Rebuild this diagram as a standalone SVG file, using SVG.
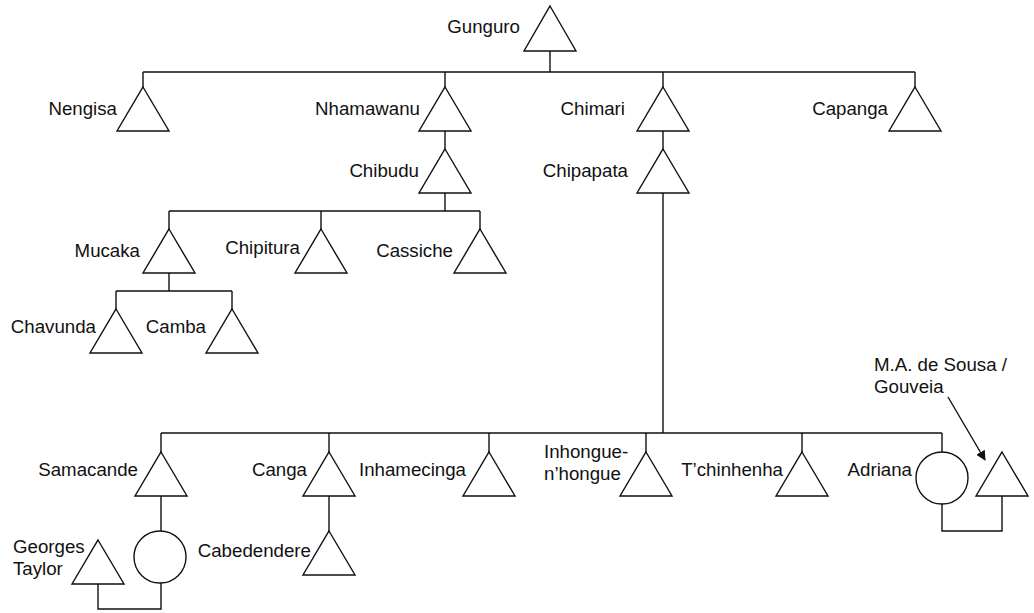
<svg xmlns="http://www.w3.org/2000/svg" width="1034" height="613" viewBox="0 0 1034 613">
<style>
.m{fill:#fff;stroke:#111;stroke-width:1.4}
.c{fill:none;stroke:#111;stroke-width:1.4}
text{font-family:"Liberation Sans",Arial,sans-serif;font-size:18.7px;fill:#111}
.e{text-anchor:end}
</style>
<defs>
<marker id="ah" viewBox="0 0 10 10" refX="9" refY="5" markerWidth="10" markerHeight="10" markerUnits="userSpaceOnUse" orient="auto">
<path d="M0,0 L10,5 L0,10 z" fill="#111"/>
</marker>
</defs>
<rect width="1034" height="613" fill="#fff"/>
<g id="connectors">
<path class="c" d="M550,51 V72 M143,72 H915 M143,72 V87 M445,72 V87 M663,72 V87 M915,72 V87"/>
<path class="c" d="M445,131 V149 M663,131 V149"/>
<path class="c" d="M445,193 V211 M169,211 H480 M169,211 V229 M321,211 V229 M480,211 V229"/>
<path class="c" d="M169,273 V291 M116,291 H232 M116,291 V309 M232,291 V309"/>
<path class="c" d="M663,193 V433 M161,433 H942 M161,433 V452 M329,433 V452 M489,433 V452 M646,433 V452 M802,433 V452 M942,433 V452"/>
<path class="c" d="M161,496 V531 M329,496 V531"/>
<path class="c" d="M98,584 V609 H161 V583"/>
<path class="c" d="M942,504 V531 H1002 V496"/>
<path class="c" d="M948,397 L985,460" marker-end="url(#ah)"/>
</g>
<g id="gunguro"><polygon class="m" points="550,6 576,51 524,51"/><text class="e" x="520" y="33">Gunguro</text></g>
<g id="nengisa"><polygon class="m" points="143,87 169,131 117,131"/><text class="e" x="117" y="115">Nengisa</text></g>
<g id="nhamawanu"><polygon class="m" points="445,87 471,131 419,131"/><text class="e" x="420" y="115">Nhamawanu</text></g>
<g id="chimari"><polygon class="m" points="663,87 689,131 637,131"/><text class="e" x="625" y="115">Chimari</text></g>
<g id="capanga"><polygon class="m" points="915,87 941,131 889,131"/><text class="e" x="888" y="115">Capanga</text></g>
<g id="chibudu"><polygon class="m" points="445,149 471,193 419,193"/><text class="e" x="419" y="177">Chibudu</text></g>
<g id="chipapata"><polygon class="m" points="663,149 689,193 637,193"/><text class="e" x="628" y="177">Chipapata</text></g>
<g id="mucaka"><polygon class="m" points="169,229 195,273 143,273"/><text class="e" x="140" y="257">Mucaka</text></g>
<g id="chipitura"><polygon class="m" points="321,229 347,273 295,273"/><text class="e" x="300" y="254">Chipitura</text></g>
<g id="cassiche"><polygon class="m" points="480,229 506,273 454,273"/><text class="e" x="453" y="257">Cassiche</text></g>
<g id="chavunda"><polygon class="m" points="116,309 142,353 90,353"/><text class="e" x="96" y="333">Chavunda</text></g>
<g id="camba"><polygon class="m" points="232,309 258,353 206,353"/><text class="e" x="206" y="333">Camba</text></g>
<g id="samacande"><polygon class="m" points="161,452 187,496 135,496"/><text class="e" x="138" y="476">Samacande</text></g>
<g id="canga"><polygon class="m" points="329,452 355,496 303,496"/><text class="e" x="307" y="476">Canga</text></g>
<g id="inhamecinga"><polygon class="m" points="489,452 515,496 463,496"/><text class="e" x="466" y="476">Inhamecinga</text></g>
<g id="inhongue"><polygon class="m" points="646,452 672,496 620,496"/><text x="544" y="458">Inhongue-</text><text x="544" y="480">n’hongue</text></g>
<g id="tchinhenha"><polygon class="m" points="802,452 828,496 776,496"/><text class="e" x="783" y="476">T’chinhenha</text></g>
<g id="adriana"><circle class="m" cx="942" cy="478" r="26"/><text class="e" x="912" y="476">Adriana</text></g>
<g id="sousa"><polygon class="m" points="1002,452 1028,496 976,496"/><text x="874" y="371">M.A. de Sousa /</text><text x="874" y="393">Gouveia</text></g>
<g id="wife-samacande"><circle class="m" cx="160" cy="557" r="26"/></g>
<g id="georges-taylor"><polygon class="m" points="98,540 124,584 72,584"/><text x="13" y="553">Georges</text><text x="13" y="575">Taylor</text></g>
<g id="cabedendere"><polygon class="m" points="329,531 355,575 303,575"/><text class="e" x="311" y="557">Cabedendere</text></g>
</svg>
